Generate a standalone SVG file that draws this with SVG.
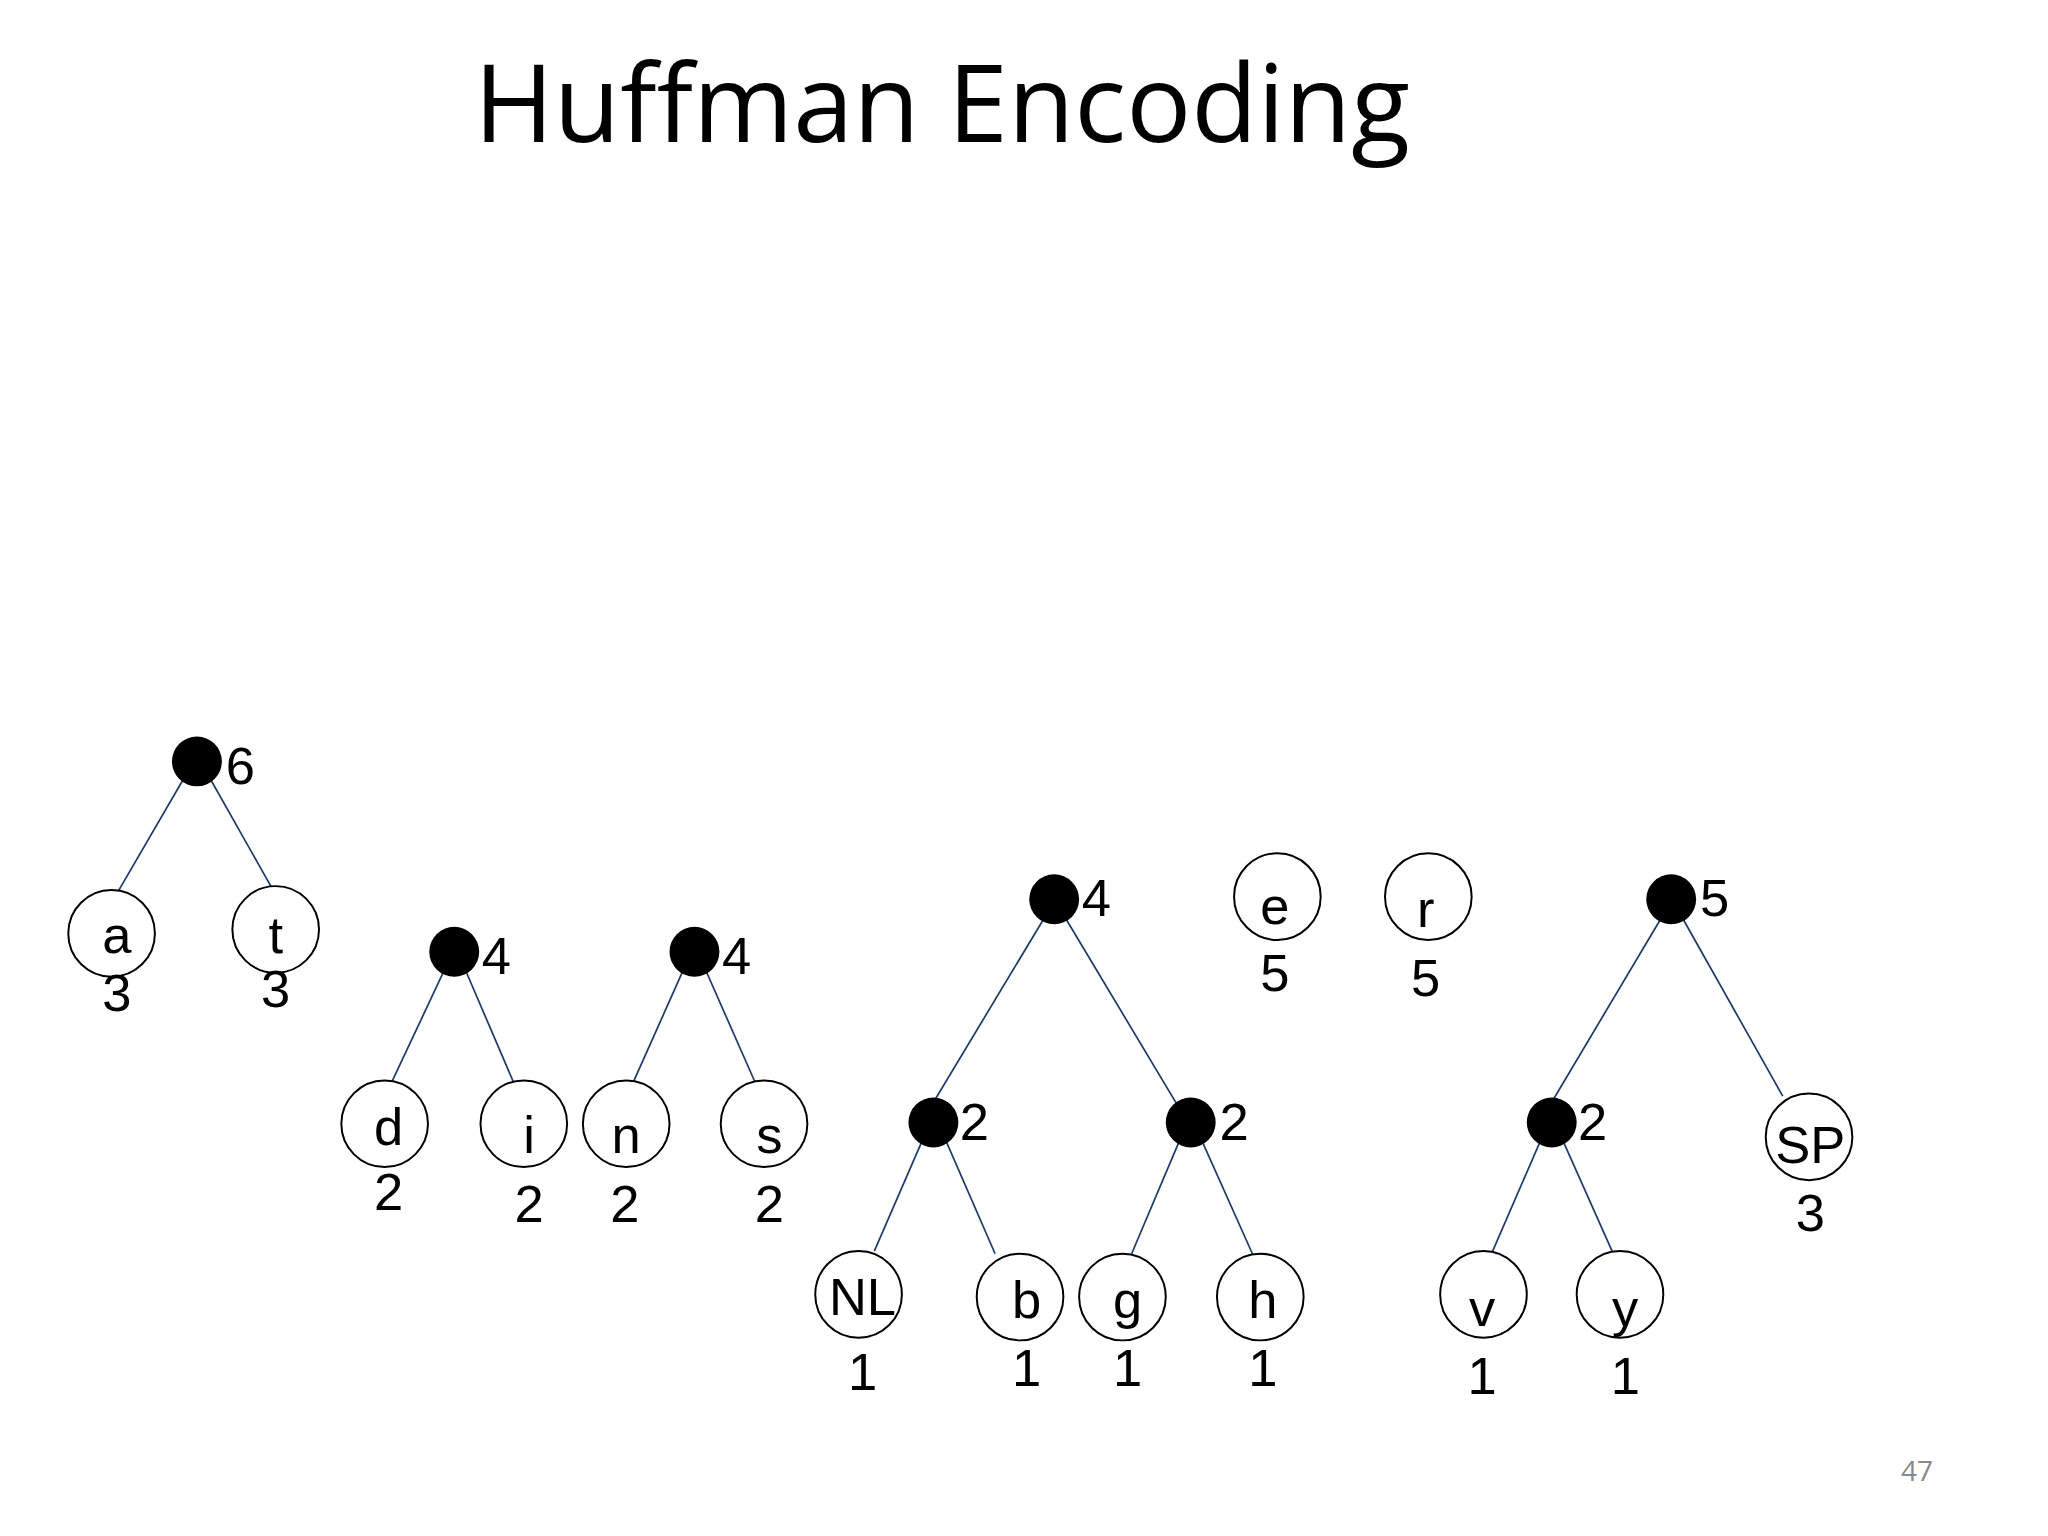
<svg xmlns="http://www.w3.org/2000/svg" width="2048" height="1536" viewBox="0 0 2048 1536">
<style>
.o{fill:#fff;stroke:#000;stroke-width:1.5}
.f{fill:#000}
text{font-family:"Liberation Sans",Arial,sans-serif;font-size:40px;fill:#000}
.c{text-anchor:middle}
.e{stroke:#1f3a68;stroke-width:1.3;fill:none}
</style>
<rect width="2048" height="1536" fill="#fff"/>
<text x="942" y="142" text-anchor="middle" style="font-family:'Open Sans',sans-serif;font-size:108px" textLength="936" lengthAdjust="spacingAndGlyphs">Huffman Encoding</text>
<text x="1917" y="1481" text-anchor="middle" style="font-family:'Open Sans',sans-serif;font-size:28px;fill:#888">47</text>
<g transform="scale(1.3128)">
<g id="connectors">
<line class="e" x1="140" y1="593" x2="90" y2="679"/>
<line class="e" x1="160" y1="593" x2="208" y2="678"/>
<line class="e" x1="338" y1="740" x2="299" y2="823"/>
<line class="e" x1="355" y1="740" x2="391" y2="824"/>
<line class="e" x1="520" y1="740" x2="483" y2="823"/>
<line class="e" x1="538" y1="740" x2="575" y2="824"/>
<line class="e" x1="795" y1="700" x2="706" y2="848"/>
<line class="e" x1="812" y1="700" x2="897" y2="842"/>
<line class="e" x1="702" y1="870" x2="666" y2="953"/>
<line class="e" x1="721" y1="870" x2="758" y2="955"/>
<line class="e" x1="898" y1="870" x2="862" y2="955"/>
<line class="e" x1="916" y1="870" x2="954" y2="955"/>
<line class="e" x1="1265" y1="700" x2="1177" y2="848"/>
<line class="e" x1="1282" y1="700" x2="1358" y2="835"/>
<line class="e" x1="1173" y1="870" x2="1137" y2="953"/>
<line class="e" x1="1191" y1="870" x2="1228" y2="953"/>
</g>
<g id="n6"><ellipse class="f" cx="150" cy="580" rx="19" ry="19"/><text x="172" y="597">6</text></g>
<g id="na"><ellipse class="o" cx="85" cy="711" rx="33" ry="33"/><text class="c" x="89" y="726">a</text><text class="c" x="89" y="770">3</text></g>
<g id="nt"><ellipse class="o" cx="210" cy="708" rx="33" ry="33"/><text class="c" x="210" y="726">t</text><text class="c" x="210" y="767">3</text></g>
<g id="n4a"><ellipse class="f" cx="346" cy="725" rx="19" ry="19"/><text x="367" y="742">4</text></g>
<g id="nd"><ellipse class="o" cx="293" cy="856" rx="33" ry="33"/><text class="c" x="296" y="872">d</text><text class="c" x="296" y="922">2</text></g>
<g id="ni"><ellipse class="o" cx="399" cy="856" rx="33" ry="33"/><text class="c" x="403" y="878">i</text><text class="c" x="403" y="931">2</text></g>
<g id="n4b"><ellipse class="f" cx="529" cy="725" rx="19" ry="19"/><text x="550" y="742">4</text></g>
<g id="nn"><ellipse class="o" cx="477" cy="856" rx="33" ry="33"/><text class="c" x="477" y="878">n</text><text class="c" x="476" y="931">2</text></g>
<g id="ns"><ellipse class="o" cx="582" cy="856" rx="33" ry="33"/><text class="c" x="586" y="878">s</text><text class="c" x="586" y="931">2</text></g>
<g id="n4c"><ellipse class="f" cx="803" cy="685" rx="19" ry="19"/><text x="824" y="698">4</text></g>
<g id="n2a"><ellipse class="f" cx="711" cy="855" rx="19" ry="19"/><text x="731" y="868">2</text></g>
<g id="n2b"><ellipse class="f" cx="907" cy="855" rx="19" ry="19"/><text x="929" y="868">2</text></g>
<g id="nNL"><ellipse class="o" cx="654" cy="986" rx="33" ry="33"/><text class="c" x="657" y="1002">NL</text><text class="c" x="657" y="1059">1</text></g>
<g id="nb"><ellipse class="o" cx="777" cy="988" rx="33" ry="33"/><text class="c" x="782" y="1004">b</text><text class="c" x="782" y="1056">1</text></g>
<g id="ng"><ellipse class="o" cx="855" cy="988" rx="33" ry="33"/><text class="c" x="859" y="1004">g</text><text class="c" x="859" y="1056">1</text></g>
<g id="nh"><ellipse class="o" cx="960" cy="988" rx="33" ry="33"/><text class="c" x="962" y="1004">h</text><text class="c" x="962" y="1056">1</text></g>
<g id="ne"><ellipse class="o" cx="973" cy="683" rx="33" ry="33"/><text class="c" x="971" y="704">e</text><text class="c" x="971" y="755">5</text></g>
<g id="nr"><ellipse class="o" cx="1088" cy="683" rx="33" ry="33"/><text class="c" x="1086" y="706">r</text><text class="c" x="1086" y="759">5</text></g>
<g id="n5"><ellipse class="f" cx="1273" cy="685" rx="19" ry="19"/><text x="1295" y="698">5</text></g>
<g id="n2c"><ellipse class="f" cx="1182" cy="855" rx="19" ry="19"/><text x="1202" y="868">2</text></g>
<g id="nSP"><ellipse class="o" cx="1378" cy="866" rx="33" ry="33"/><text class="c" x="1379" y="886">SP</text><text class="c" x="1379" y="938">3</text></g>
<g id="nv"><ellipse class="o" cx="1130" cy="986" rx="33" ry="33"/><text class="c" x="1129" y="1010">v</text><text class="c" x="1129" y="1062">1</text></g>
<g id="ny"><ellipse class="o" cx="1234" cy="986" rx="33" ry="33"/><text class="c" x="1238" y="1010">y</text><text class="c" x="1238" y="1062">1</text></g>
</g>
</svg>
